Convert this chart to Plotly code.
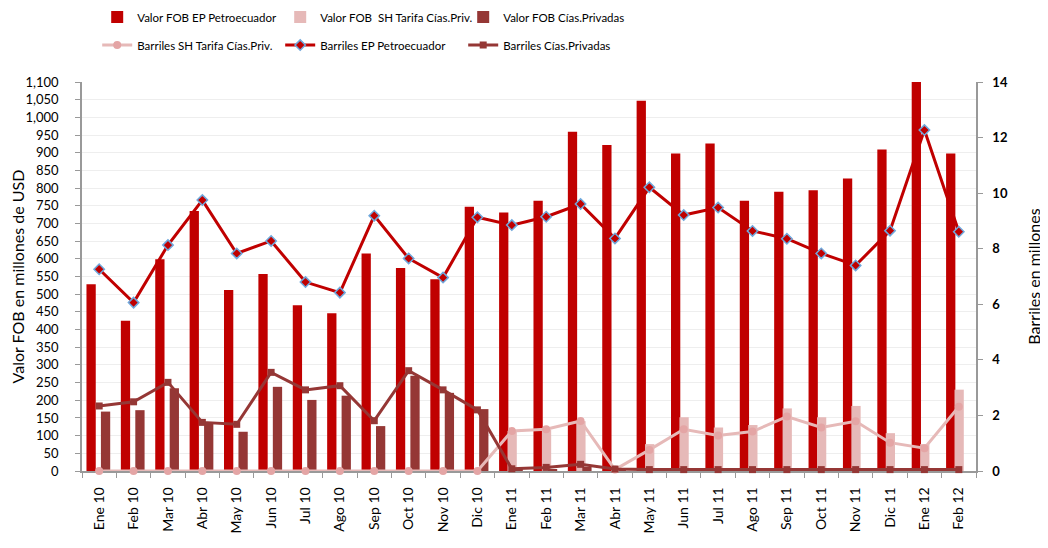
import plotly.graph_objects as go

months = ["Ene 10", "Feb 10", "Mar 10", "Abr 10", "May 10", "Jun 10", "Jul 10", "Ago 10",
          "Sep 10", "Oct 10", "Nov 10", "Dic 10", "Ene 11", "Feb 11", "Mar 11", "Abr 11",
          "May 11", "Jun 11", "Jul 11", "Ago 11", "Sep 11", "Oct 11", "Nov 11", "Dic 11",
          "Ene 12", "Feb 12"]

fob_ep = [528, 425, 599, 735, 512, 557, 469, 446, 615, 574, 542, 747, 731, 764, 959, 922,
          1047, 898, 926, 764, 790, 794, 827, 909, 1100, 898]
fob_sh = [0, 0, 0, 0, 0, 0, 0, 0, 0, 0, 0, 0, 113, 116, 141, 0,
          76, 152, 123, 130, 177, 152, 184, 107, 76, 230]
fob_priv = [168, 172, 234, 135, 111, 238, 201, 213, 127, 269, 221, 175, 3, 4, 12, 3,
            0, 0, 0, 0, 0, 0, 0, 0, 0, 0]

bbl_sh = [0, 0, 0, 0, 0, 0, 0, 0, 0, 0, 0, 0, 1.44, 1.50, 1.80, 0.05,
          0.76, 1.50, 1.28, 1.42, 1.96, 1.57, 1.79, 1.02, 0.82, 2.31]
bbl_ep = [7.26, 6.06, 8.13, 9.75, 7.83, 8.28, 6.80, 6.42, 9.19, 7.65, 6.96, 9.13, 8.85, 9.15,
          9.61, 8.37, 10.21, 9.21, 9.48, 8.64, 8.36, 7.83, 7.40, 8.65, 12.27, 8.61]
bbl_priv = [2.34, 2.49, 3.19, 1.75, 1.68, 3.55, 2.92, 3.07, 1.81, 3.61, 2.92, 2.20, 0.08, 0.13,
            0.24, 0.07, 0.05, 0.05, 0.05, 0.05, 0.05, 0.05, 0.05, 0.05, 0.05, 0.05]

RED = "#C00000"
PINK = "#E6B9B8"
PINK_M = "#E4A5A5"
BROWN = "#953735"
FONT = "Lato"

fig = go.Figure()
bw = 0.27
fig.add_trace(go.Bar(x=months, y=fob_ep, name="Valor FOB EP Petroecuador", marker_color=RED,
                     marker_line_width=0, width=bw, offset=-0.37, legend="legend"))
fig.add_trace(go.Bar(x=months, y=fob_sh, name="Valor FOB  SH Tarifa Cías.Priv.", marker_color=PINK,
                     marker_line_width=0, width=bw, offset=-0.125, legend="legend"))
fig.add_trace(go.Bar(x=months, y=fob_priv, name="Valor FOB Cías.Privadas", marker_color=BROWN,
                     marker_line_width=0, width=bw, offset=0.05, legend="legend"))

fig.add_trace(go.Scatter(x=months, y=bbl_sh, name="Barriles SH Tarifa Cías.Priv.", yaxis="y2",
                         mode="lines+markers", line=dict(color=PINK, width=3), cliponaxis=False,
                         marker=dict(symbol="circle", size=8, color=PINK_M), legend="legend2"))
fig.add_trace(go.Scatter(x=months, y=bbl_ep, name="Barriles EP Petroecuador", yaxis="y2",
                         mode="lines+markers", line=dict(color=RED, width=3), cliponaxis=False,
                         marker=dict(symbol="diamond", size=8, color=RED,
                                     line=dict(color="#6FA8DC", width=1.5)), legend="legend2"))
fig.add_trace(go.Scatter(x=months, y=bbl_priv, name="Barriles Cías.Privadas", yaxis="y2",
                         mode="lines+markers", line=dict(color=BROWN, width=3), cliponaxis=False,
                         marker=dict(symbol="square", size=7, color=BROWN), legend="legend2"))

leg_common = dict(orientation="h", x=0.017, xanchor="left", yanchor="middle",
                  entrywidth=138, itemwidth=30, font=dict(size=11.5, family=FONT),
                  bgcolor="rgba(0,0,0,0)")

fig.update_layout(
    width=1048, height=548,
    margin=dict(l=74, r=80, t=74, b=85, autoexpand=False),
    paper_bgcolor="white", plot_bgcolor="white",
    font=dict(family=FONT, size=13, color="#000000"),
    barmode="overlay",
    showlegend=True,
    legend=dict(y=1.167, **leg_common),
    legend2=dict(y=1.095, **leg_common),
    xaxis=dict(type="category", range=[-0.5, 25.5], tickangle=-90, tickson="boundaries",
               ticks="outside", ticklen=5, tickcolor="#999999", showline=True,
               linecolor="#999999", linewidth=1.5, showgrid=False, tickfont=dict(size=14),
               ticklabelstandoff=9, automargin=False, layer="below traces"),
    yaxis=dict(range=[0, 1100], dtick=50, tickformat=",", ticks="outside", ticklen=5,
               tickcolor="#999999", showline=True, linecolor="#999999", linewidth=1.5,
               showgrid=True, gridcolor="#EEEEEE", gridwidth=1, zeroline=False,
               ticklabelstandoff=14, layer="below traces",
               title=dict(text="Valor FOB en millones de USD", font=dict(size=16), standoff=4),
               tickfont=dict(size=13), automargin=False),
    yaxis2=dict(range=[0, 14], dtick=2, overlaying="y", side="right", ticks="outside",
                ticklen=5, tickcolor="#999999", showline=True, linecolor="#999999",
                linewidth=1.5, showgrid=False, zeroline=False, automargin=False,
                ticklabelstandoff=7, layer="below traces",
                tickfont=dict(size=13, weight="bold"),
                title=dict(text="Barriles en millones", font=dict(size=16), standoff=22)),
)

fig.write_html("out.html")
